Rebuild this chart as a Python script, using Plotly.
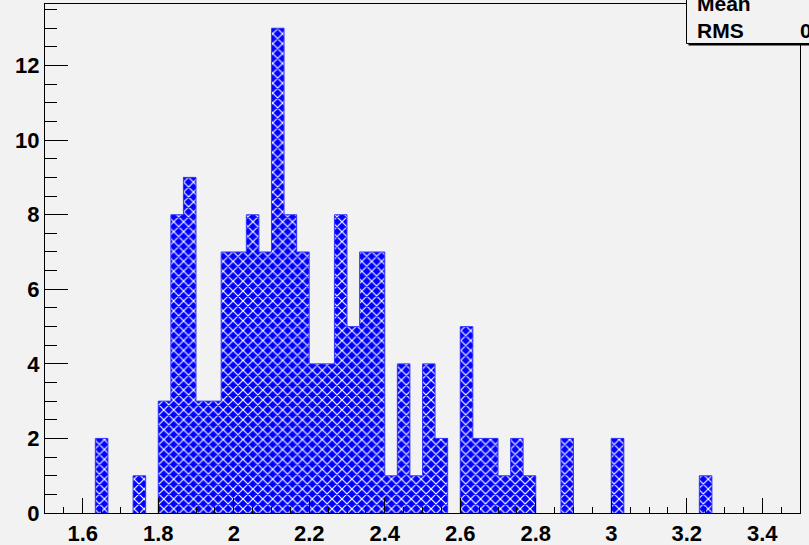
import numpy as np
import plotly.graph_objects as go

# Histogram: 60 bins between 1.5 and 3.5
x_min, x_max, n_bins = 1.5, 3.5, 60
counts = [0, 0, 0, 0, 2, 0, 0, 1, 0, 3,
          8, 9, 3, 3, 7, 7, 8, 7, 13, 8,
          7, 4, 4, 8, 5, 7, 7, 1, 4, 1,
          4, 2, 0, 5, 2, 2, 1, 2, 1, 0,
          0, 2, 0, 0, 0, 2, 0, 0, 0, 0,
          0, 0, 1, 0, 0, 0, 0, 0, 0, 0]
x_ticks = [1.6, 1.8, 2.0, 2.2, 2.4, 2.6, 2.8, 3.0, 3.2, 3.4]
x_tick_text = ["1.6", "1.8", "2", "2.2", "2.4", "2.6", "2.8", "3", "3.2", "3.4"]
y_ticks = [0, 2, 4, 6, 8, 10, 12]
stat_names = ["Mean", "RMS"]

bin_w = (x_max - x_min) / n_bins
centers = x_min + bin_w * (np.arange(n_bins) + 0.5)
cnt = np.array(counts, dtype=float)
mean = float((centers * cnt).sum() / cnt.sum())
rms = float(np.sqrt((cnt * (centers - mean) ** 2).sum() / cnt.sum()))
stat_values = [f"{mean:.4g}", f"{rms:.4g}"]

W, H = 809, 545
L, R, T, B = 45, 9, 4, 32
pw, ph = W - L - R, H - T - B


def px_x(p):
    return (p - L) / pw


def px_y(p):
    return (H - B - p) / ph


FONT = "Liberation Sans, Arial, Helvetica, sans-serif"
BLUE = "#0000ff"
BG = "#f2f2f2"

fig = go.Figure()
fig.add_trace(go.Bar(
    x=centers, y=counts, width=bin_w,
    marker=dict(
        color=BLUE,
        line=dict(width=0),
        pattern=dict(shape="x", bgcolor=BLUE, fgcolor="white",
                     size=7, solidity=0.3, fillmode="replace"),
    ),
    hoverinfo="x+y", showlegend=False,
))

# histogram outline: one closed step path per run of non-empty bins
edges = x_min + bin_w * np.arange(n_bins + 1)
sx, sy = [], []
i = 0
while i < n_bins:
    if counts[i] == 0:
        i += 1
        continue
    sx.append(edges[i]); sy.append(0)
    while i < n_bins and counts[i] > 0:
        sx += [edges[i], edges[i + 1]]
        sy += [counts[i], counts[i]]
        i += 1
    sx.append(edges[i]); sy.append(0)
    sx.append(None); sy.append(None)
fig.add_trace(go.Scatter(x=sx, y=sy, mode="lines",
                         line=dict(color="#3a3aff", width=1),
                         hoverinfo="skip", showlegend=False))

y_top = max(counts) * 1.05

fig.update_layout(
    width=W, height=H,
    margin=dict(l=L, r=R, t=T, b=B, pad=0),
    paper_bgcolor=BG, plot_bgcolor=BG,
    bargap=0,
    font=dict(family=FONT, size=22, color="black", weight="bold"),
    xaxis=dict(
        range=[x_min, x_max], showgrid=False, zeroline=False, automargin=False,
        showline=True, linecolor="black", linewidth=1, mirror=True,
        ticks="inside", ticklen=15, tickwidth=1, tickcolor="black",
        tickvals=x_ticks, ticktext=x_tick_text, ticklabelstandoff=1,
        tickfont=dict(family=FONT, size=22, color="black", weight="bold"),
        minor=dict(dtick=0.05, tick0=1.5, ticks="inside", ticklen=6,
                   tickwidth=1, tickcolor="black", showgrid=False),
    ),
    yaxis=dict(
        range=[0, y_top], showgrid=False, zeroline=False, automargin=False,
        showline=True, linecolor="black", linewidth=1, mirror=True,
        ticks="inside", ticklen=23, tickwidth=1, tickcolor="black",
        tickvals=y_ticks,
        tickfont=dict(family=FONT, size=22, color="black", weight="bold"),
        minor=dict(dtick=0.5, tick0=0, ticks="inside", ticklen=12,
                   tickwidth=1, tickcolor="black", showgrid=False),
    ),
)

# statistics box in the top right corner (runs past the canvas edge)
bx0, bx1, by0, by1 = 686.5, 880, -40, 43.5
fig.add_shape(type="rect", xref="paper", yref="paper",
              x0=px_x(bx0 + 2), x1=px_x(bx1 + 2), y0=px_y(by1 + 2), y1=px_y(by0 + 2),
              fillcolor="black", line=dict(width=0), layer="above")
fig.add_shape(type="rect", xref="paper", yref="paper",
              x0=px_x(bx0), x1=px_x(bx1), y0=px_y(by1), y1=px_y(by0),
              fillcolor=BG, line=dict(color="black", width=1), layer="above")

row_y = [3, 30]
for name, val, py in zip(stat_names, stat_values, row_y):
    fig.add_annotation(xref="paper", yref="paper", x=px_x(695), y=px_y(py),
                       text=name, showarrow=False, xanchor="left", yanchor="middle",
                       font=dict(family=FONT, size=21, color="black", weight="bold"))
    fig.add_annotation(xref="paper", yref="paper", x=px_x(866), y=px_y(py),
                       text=val, showarrow=False, xanchor="right", yanchor="middle",
                       font=dict(family=FONT, size=21, color="black", weight="bold"))

fig.write_html("out.html")
